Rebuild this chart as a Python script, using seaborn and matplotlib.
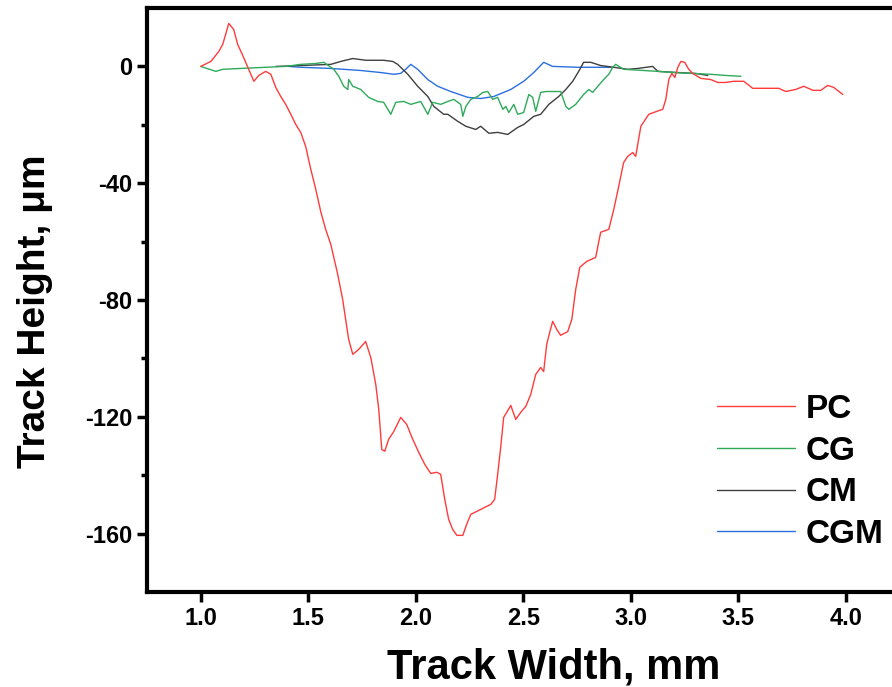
import pandas as pd
import matplotlib
matplotlib.use('Agg')
import matplotlib.pyplot as plt
import seaborn as sns

# Profile data (x in mm, height in um)
pc_x = [1.000, 1.047, 1.084, 1.102, 1.116, 1.130, 1.153, 1.172, 1.195, 1.233, 1.247, 1.270,
        1.302, 1.326, 1.349, 1.372, 1.395, 1.419, 1.442, 1.465, 1.488, 1.512, 1.535, 1.558,
        1.581, 1.605, 1.637, 1.660, 1.688, 1.707, 1.735, 1.767, 1.791, 1.814, 1.828, 1.842,
        1.856, 1.874, 1.898, 1.930, 1.958, 1.986, 2.014, 2.042, 2.070, 2.098, 2.116, 2.135,
        2.153, 2.172, 2.191, 2.219, 2.237, 2.256, 2.284, 2.321, 2.349, 2.367, 2.381, 2.395,
        2.409, 2.423, 2.442, 2.465, 2.488, 2.512, 2.535, 2.558, 2.581, 2.595, 2.609, 2.623,
        2.637, 2.656, 2.674, 2.707, 2.726, 2.744, 2.763, 2.795, 2.837, 2.860, 2.898, 2.921,
        2.944, 2.967, 2.986, 3.009, 3.023, 3.047, 3.084, 3.121, 3.149, 3.163, 3.177, 3.191,
        3.205, 3.219, 3.233, 3.251, 3.270, 3.288, 3.326, 3.372, 3.405, 3.442, 3.479, 3.526,
        3.567, 3.628, 3.688, 3.721, 3.767, 3.805, 3.847, 3.884, 3.916, 3.944, 3.986]
pc_y = [0.0, 1.7, 5.1, 7.5, 11.0, 14.7, 12.7, 7.5, 3.8, -2.7, -5.1, -3.1,
        -1.7, -2.7, -7.2, -10.3, -13.0, -16.4, -19.9, -22.6, -27.4, -35.3, -42.1, -49.7,
        -55.8, -61.0, -71.2, -79.8, -93.5, -98.6, -96.9, -94.2, -99.7, -108.9, -117.5, -131.2,
        -131.8, -127.7, -125.0, -120.2, -122.6, -127.7, -132.2, -136.3, -139.4, -139.0, -139.7, -148.3,
        -155.1, -158.6, -160.6, -160.6, -156.8, -153.4, -152.4, -151.0, -150.0, -148.3, -139.7, -130.5,
        -120.2, -118.5, -116.1, -120.9, -118.5, -116.4, -112.3, -105.5, -103.1, -104.5, -95.2, -91.1,
        -87.3, -90.1, -92.1, -90.8, -86.6, -76.4, -68.8, -66.8, -65.4, -56.8, -55.8, -49.0,
        -41.1, -32.9, -30.8, -29.5, -30.8, -20.5, -16.4, -15.4, -14.7, -11.3, -4.5, -2.4,
        -3.8, -0.3, 1.7, 1.4, -1.0, -2.4, -4.1, -4.5, -5.5, -5.5, -5.1, -5.1,
        -7.5, -7.5, -7.5, -8.6, -7.9, -6.8, -8.2, -8.2, -6.5, -7.2, -9.6]

cg_x = [1.000, 1.070, 1.102, 1.186, 1.302, 1.395, 1.465, 1.535, 1.572, 1.619, 1.642, 1.665,
        1.684, 1.688, 1.707, 1.744, 1.781, 1.823, 1.851, 1.884, 1.907, 1.944, 1.977, 2.023,
        2.056, 2.079, 2.116, 2.149, 2.177, 2.209, 2.219, 2.233, 2.256, 2.288, 2.312, 2.335,
        2.358, 2.381, 2.405, 2.419, 2.433, 2.456, 2.474, 2.502, 2.526, 2.544, 2.558, 2.581,
        2.605, 2.674, 2.698, 2.712, 2.744, 2.781, 2.805, 2.823, 2.847, 2.874, 2.898, 2.916,
        2.930, 2.967, 3.060, 3.126, 3.200, 3.279, 3.372, 3.442, 3.512]
cg_y = [0.0, -1.7, -1.0, -0.7, -0.3, 0.0, 0.7, 1.0, 1.4, -1.0, -3.4, -6.8,
        -7.9, -4.5, -6.8, -7.9, -10.6, -12.0, -12.3, -16.4, -12.3, -12.0, -13.0, -12.0,
        -16.4, -12.3, -13.0, -12.0, -11.3, -13.0, -17.1, -13.7, -11.3, -10.3, -8.9, -8.6,
        -11.3, -10.6, -14.7, -13.7, -15.8, -13.0, -16.4, -15.8, -9.6, -10.6, -15.4, -8.9,
        -8.6, -8.6, -13.7, -14.7, -13.0, -9.6, -7.9, -8.9, -6.8, -4.5, -2.7, -0.3,
        0.7, -1.0, -1.4, -1.7, -2.1, -2.4, -2.7, -3.1, -3.4]

cm_x = [1.350, 1.465, 1.605, 1.651, 1.707, 1.767, 1.851, 1.893, 1.916, 1.963, 2.009, 2.056,
        2.084, 2.130, 2.149, 2.195, 2.233, 2.279, 2.302, 2.340, 2.381, 2.428, 2.474, 2.502,
        2.549, 2.581, 2.619, 2.665, 2.698, 2.730, 2.758, 2.781, 2.814, 2.860, 2.921, 2.986,
        3.033, 3.102, 3.126, 3.219, 3.302, 3.358]
cm_y = [0.0, 0.3, 0.7, 1.7, 2.7, 2.1, 2.1, 1.7, 0.7, -2.7, -6.8, -10.3,
        -13.7, -16.4, -16.4, -18.8, -20.5, -21.6, -20.5, -22.9, -22.6, -23.3, -20.9, -19.9,
        -17.1, -16.4, -13.0, -10.3, -7.9, -5.1, -1.7, 1.4, 1.4, 0.3, -0.3, -1.0,
        -0.7, 0.0, -1.7, -2.1, -2.4, -3.1]

cgm_x = [1.409, 1.465, 1.605, 1.744, 1.837, 1.898, 1.930, 1.953, 1.977, 2.009, 2.056, 2.102,
         2.163, 2.242, 2.302, 2.363, 2.442, 2.502, 2.549, 2.595, 2.637, 2.753, 2.907]
cgm_y = [0.0, -0.3, -0.7, -1.4, -2.1, -2.7, -2.4, -1.0, 0.7, -1.0, -4.5, -6.8,
         -8.6, -10.6, -11.0, -10.3, -7.9, -5.1, -2.1, 1.4, 0.0, -0.3, -0.3]

names = ['PC', 'CG', 'CM', 'CGM']
colors = {'PC': '#FF3B3B', 'CG': '#2EAA5A', 'CM': '#3F3F3F', 'CGM': '#2A6FE0'}

frames = []
for name, xs, ys in zip(names, [pc_x, cg_x, cm_x, cgm_x], [pc_y, cg_y, cm_y, cgm_y]):
    frames.append(pd.DataFrame({'x': xs, 'y': ys, 'sample': name}))
df = pd.concat(frames, ignore_index=True)

sns.set_style('ticks')
plt.rcParams['font.family'] = ['Liberation Sans', 'DejaVu Sans']
plt.rcParams['font.weight'] = 'bold'
plt.rcParams['axes.unicode_minus'] = False
plt.rcParams['text.color'] = 'black'
plt.rcParams['axes.labelcolor'] = 'black'
plt.rcParams['xtick.color'] = 'black'
plt.rcParams['ytick.color'] = 'black'

fig = plt.figure(figsize=(8.92, 6.87), dpi=100)
ax = fig.add_axes([147 / 892, 95 / 687, 752.5 / 892, 584 / 687])

# draw CGM first so the order on top matches the picture
for name in ['CGM', 'CM', 'CG', 'PC']:
    sns.lineplot(data=df[df['sample'] == name], x='x', y='y', sort=False,
                 estimator=None, color=colors[name], linewidth=1.0, label=name, ax=ax)

ax.set_xlim(0.75, 4.25)
ax.set_ylim(-180, 20)
ax.set_xticks([1.0, 1.5, 2.0, 2.5, 3.0, 3.5, 4.0])
ax.set_xticklabels(['1.0', '1.5', '2.0', '2.5', '3.0', '3.5', '4.0'])
ax.set_yticks([0, -40, -80, -120, -160])
ax.set_yticks([-20, -60, -100, -140], minor=True)
ax.tick_params(axis='both', which='major', direction='out', length=7, width=2.5, labelsize=17,
               colors='black')
ax.tick_params(axis='y', which='minor', direction='out', length=4, width=2.5, colors='black')
for lab in ax.get_xticklabels() + ax.get_yticklabels():
    lab.set_fontweight('bold')

for side in ['left', 'bottom', 'top']:
    ax.spines[side].set_linewidth(3)
    ax.spines[side].set_color('black')
ax.spines['right'].set_visible(False)

ax.set_xlabel('Track Width, mm', fontsize=30, fontweight='bold')
ax.set_ylabel('Track Height, μm', fontsize=28, fontweight='bold')
ax.xaxis.set_label_coords(0.54, -0.095)
ax.yaxis.set_label_coords(-0.125, 0.48)

handles, labels = ax.get_legend_handles_labels()
order = [labels.index(n) for n in names]
leg = ax.legend([handles[i] for i in order], names, loc='center left',
                bbox_to_anchor=(717 / 892, 1 - 472 / 687), bbox_transform=fig.transFigure,
                frameon=False, fontsize=24, handlelength=2.35, handletextpad=0.3,
                labelspacing=0.32, borderpad=0, borderaxespad=0)
for t in leg.get_texts():
    t.set_fontweight('bold')

fig.savefig('out.png', dpi=100)
